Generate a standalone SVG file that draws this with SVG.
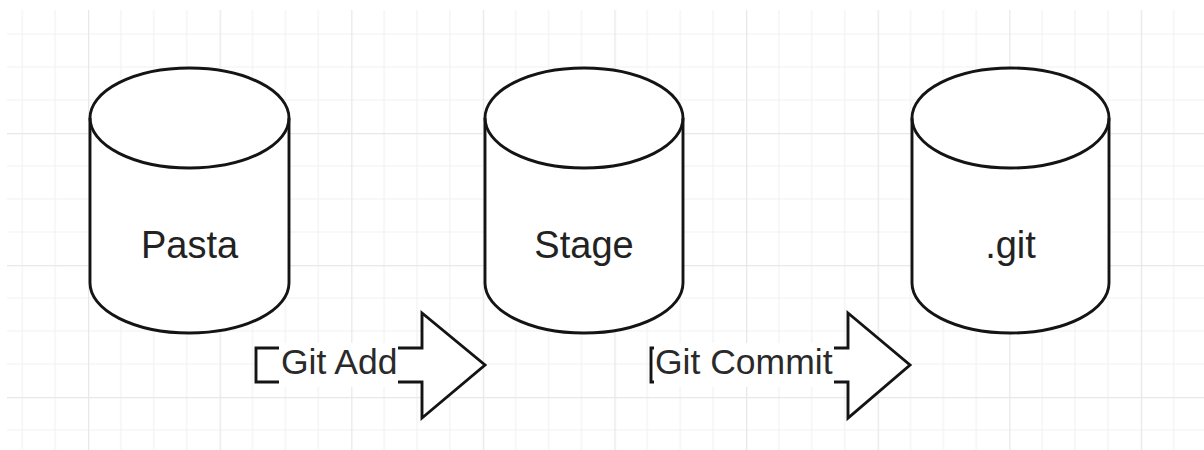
<svg xmlns="http://www.w3.org/2000/svg" width="1204" height="450" viewBox="0 0 1204 450">
<style>
.shape{fill:#ffffff;stroke:#141414;stroke-width:2.9;stroke-linejoin:miter}
.edge{fill:none;stroke:#141414;stroke-width:2.9}
.lbl{font-family:"Liberation Sans",Arial,sans-serif;font-size:38px;fill:#222222;text-anchor:middle}
.elbl{font-family:"Liberation Sans",Arial,sans-serif;font-size:35.5px;fill:#2a2a2a}
</style>
<defs>
<pattern id="grid" patternUnits="userSpaceOnUse" x="-43.6" y="1" width="131.6" height="132">
<path d="M32.9,0V132M65.8,0V132M98.7,0V132M0,33H131.6M0,66H131.6M0,99H131.6" stroke="#f2f2f2" stroke-width="1.2" fill="none"/>
<path d="M0.5,0V132M0,0.5H131.6" stroke="#e8e8e8" stroke-width="1.6" fill="none"/>
</pattern>
</defs>
<rect width="1204" height="450" fill="#ffffff"/>
<rect x="7" y="10" width="1197" height="440" fill="url(#grid)"/>
<g id="pasta">
<path class="shape" d="M90,118 A99.5,50 0 0 1 289,118 L289,283 A99.5,50 0 0 1 90,283 Z"/>
<path class="edge" d="M90,118 A99.5,50 0 0 0 289,118"/>
<text class="lbl" x="189.5" y="258">Pasta</text>
</g>
<g id="stage">
<path class="shape" d="M485,118 A99,50 0 0 1 683,118 L683,283 A99,50 0 0 1 485,283 Z"/>
<path class="edge" d="M485,118 A99,50 0 0 0 683,118"/>
<text class="lbl" x="584" y="258">Stage</text>
</g>
<g id="git">
<path class="shape" d="M912,118 A98.5,50 0 0 1 1109,118 L1109,283 A98.5,50 0 0 1 912,283 Z"/>
<path class="edge" d="M912,118 A98.5,50 0 0 0 1109,118"/>
<text class="lbl" x="1010.5" y="258">.git</text>
</g>
<g id="connectors">
<g id="git-add">
<path class="shape" d="M256,348 H422 V313 L485,365 L422,418 V382 H256 Z"/>
<rect x="279" y="343" width="119" height="44" fill="#ffffff"/>
<text class="elbl" x="281" y="374">Git Add</text>
</g>
<g id="git-commit">
<path class="shape" d="M651,348 H848 V313 L910,365 L848,418 V382 H651 Z"/>
<rect x="654" y="343" width="180" height="44" fill="#ffffff"/>
<text class="elbl" x="655" y="374">Git Commit</text>
</g>
</g>
</svg>
